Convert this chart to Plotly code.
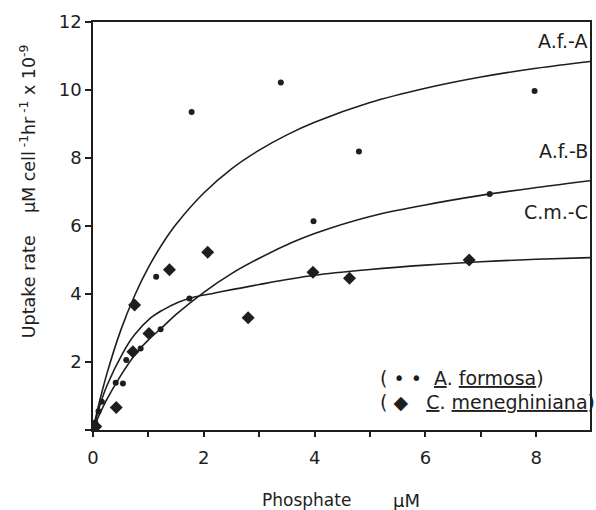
import plotly.graph_objects as go

# A. formosa data (dots)
af_x = [0.04, 0.10, 0.16, 0.41, 0.54, 0.60, 0.86, 1.14, 1.22, 1.74, 1.78, 3.39, 3.98, 4.80, 7.16, 7.97]
af_y = [0.22, 0.55, 0.83, 1.39, 1.37, 2.06, 2.40, 4.51, 2.96, 3.87, 9.35, 10.22, 6.14, 8.19, 6.94, 9.97]

# C. meneghiniana data (diamonds)
cm_x = [0.05, 0.42, 0.72, 0.75, 1.01, 1.38, 2.07, 2.80, 3.97, 4.63, 6.79]
cm_y = [0.10, 0.66, 2.30, 3.68, 2.84, 4.71, 5.23, 3.30, 4.64, 4.46, 5.00]

# Fitted curves
curveA_x = [0, 0.1, 0.25, 0.5, 0.75, 1.0, 1.25, 1.5, 2.0, 2.5, 3.0, 3.5, 4.0, 5.0, 6.0, 7.0, 8.0, 8.97]
curveA_y = [0, 0.72, 1.65, 2.93, 3.95, 4.78, 5.47, 6.05, 6.97, 7.68, 8.23, 8.68, 9.05, 9.63, 10.05, 10.38, 10.64, 10.84]
curveB_x = [0, 0.1, 0.25, 0.5, 0.75, 1.0, 1.25, 1.5, 2.0, 2.5, 3.0, 3.6, 4.0, 5.0, 6.0, 7.0, 8.0, 8.97]
curveB_y = [0, 0.4, 0.9, 1.6, 2.2, 2.65, 3.02, 3.4, 4.05, 4.6, 5.05, 5.52, 5.78, 6.28, 6.62, 6.9, 7.13, 7.33]
curveC_x = [0, 0.12, 0.25, 0.55, 0.75, 1.03, 1.25, 1.54, 1.8, 2.2, 3.0, 4.0, 5.0, 6.0, 7.0, 8.0, 8.97]
curveC_y = [0, 0.7, 1.3, 2.3, 2.8, 3.28, 3.52, 3.76, 3.9, 4.03, 4.28, 4.55, 4.72, 4.85, 4.95, 5.02, 5.07]

x_ticks = [0, 1, 2, 3, 4, 5, 6, 7, 8]
x_tick_labels = ["0", "", "2", "", "4", "", "6", "", "8"]
y_ticks = [0, 2, 4, 6, 8, 10, 12]
y_tick_labels = ["", "2", "4", "6", "8", "10", "12"]

curve_labels = ["A.f.-A", "A.f.-B", "C.m.-C"]
curve_label_y = [11.45, 8.2, 6.4]

INK = "#1e1e1e"
FONT = "DejaVu Sans"

fig = go.Figure()
for cx, cy in [(curveA_x, curveA_y), (curveB_x, curveB_y), (curveC_x, curveC_y)]:
    fig.add_trace(go.Scatter(x=cx, y=cy, mode="lines",
                             line=dict(color=INK, width=1.6, shape="spline", smoothing=1.0),
                             hoverinfo="skip", showlegend=False))
fig.add_trace(go.Scatter(x=af_x, y=af_y, mode="markers",
                         marker=dict(symbol="circle", size=6, color=INK),
                         name="A. formosa", showlegend=False))
fig.add_trace(go.Scatter(x=cm_x, y=cm_y, mode="markers",
                         marker=dict(symbol="diamond", size=10, color=INK),
                         name="C. meneghiniana", showlegend=False))

for lab, ly in zip(curve_labels, curve_label_y):
    fig.add_annotation(x=8.97, y=ly, text=lab, showarrow=False, xanchor="right",
                       yanchor="middle", font=dict(family=FONT, size=19, color=INK))

fig.add_annotation(x=5.15, y=1.53, text="( \u2022 \u2022  <u>A</u>. <u>formosa</u>)",
                   showarrow=False, xanchor="left", yanchor="middle",
                   font=dict(family=FONT, size=19, color=INK))
fig.add_annotation(x=5.15, y=0.82, text="( \u25c6   <u>C</u>. <u>meneghiniana</u>)",
                   showarrow=False, xanchor="left", yanchor="middle",
                   font=dict(family=FONT, size=19, color=INK))

fig.add_annotation(x=3.86, y=-0.1716, xref="x", yref="paper", text="Phosphate",
                   showarrow=False, xanchor="center", yanchor="middle",
                   font=dict(family=FONT, size=17, color=INK))
fig.add_annotation(x=5.66, y=-0.1716, xref="x", yref="paper", text="\u03bcM",
                   showarrow=False, xanchor="center", yanchor="middle",
                   font=dict(family=FONT, size=18, color=INK))
fig.add_annotation(x=-0.131, y=0.585, xref="paper", yref="paper",
                   text="Uptake rate    \u03bcM cell<sup> -1</sup>hr<sup> -1</sup> x 10<sup>-9</sup>",
                   textangle=-90, showarrow=False, xanchor="center", yanchor="middle",
                   font=dict(family=FONT, size=17.5, color=INK))

fig.update_xaxes(range=[0, 8.97], tickmode="array", tickvals=x_ticks, ticktext=x_tick_labels,
                 ticks="outside", ticklen=5, tickwidth=1.5, tickcolor=INK,
                 showline=True, linecolor=INK, linewidth=1.6, mirror=True,
                 showgrid=False, zeroline=False, ticklabelstandoff=6,
                 tickfont=dict(family=FONT, size=18, color=INK))
fig.update_yaxes(range=[0, 12], tickmode="array", tickvals=y_ticks, ticktext=y_tick_labels,
                 ticks="outside", ticklen=6, tickwidth=1.5, tickcolor=INK,
                 showline=True, linecolor=INK, linewidth=1.6, mirror=True,
                 showgrid=False, zeroline=False,
                 tickfont=dict(family=FONT, size=18, color=INK))
fig.update_layout(width=596, height=510, margin=dict(l=93, r=4, t=22, b=80),
                  paper_bgcolor="white", plot_bgcolor="white", showlegend=False)
fig.write_html("out.html")
